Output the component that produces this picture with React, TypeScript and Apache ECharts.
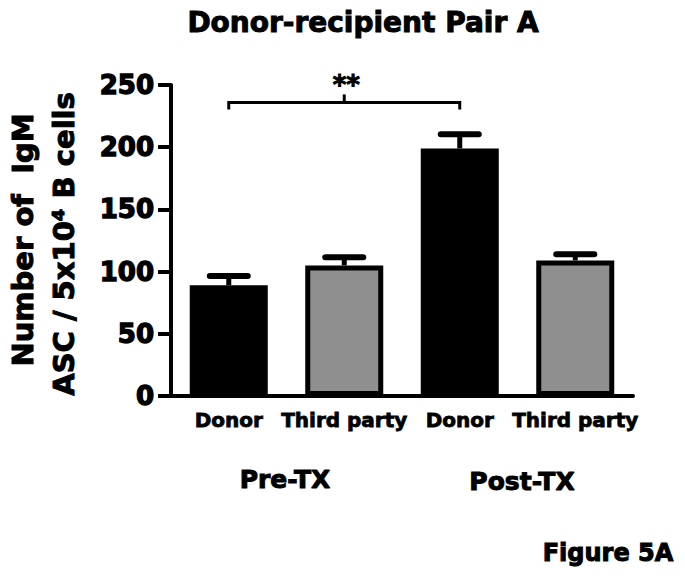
import React, { useEffect, useRef } from "react";
import * as echarts from "echarts";

const categories = ["Donor", "Third party", "Donor", "Third party"];
const means = [89, 105, 199, 109];
const sems = [7.5, 6.5, 11.5, 5];
const barColors = ["#000000", "#8f8f8f", "#000000", "#8f8f8f"];
const groupLabels = ["Pre-TX", "Post-TX"];
const yMin = 0;
const yMax = 250;
const yInterval = 50;
const significance = [[0, 2, 236]];
const sigLabel = "**";

const FONT = "DejaVu Sans";
const heavy = { textBorderColor: "#000", textBorderWidth: 1 };

export default function App() {
  const ref = useRef<HTMLDivElement>(null);
  useEffect(() => {
    if (!ref.current) return;
    const chart = echarts.init(ref.current, null, { renderer: "svg" });
    const textStyle = (text: string, fontSize: number) => ({
      text,
      fontSize,
      fontWeight: "bold",
      fontFamily: FONT,
      fill: "#000",
      stroke: "#000",
      lineWidth: 1,
      align: "center",
      verticalAlign: "middle",
    });
    const option: any = {
      animation: false,
      backgroundColor: "#ffffff",
      grid: { left: 171, right: 52, top: 85, bottom: 186, containLabel: false },
      xAxis: {
        type: "category",
        data: categories,
        axisLine: { lineStyle: { color: "#000", width: 4 } },
        axisTick: { alignWithLabel: true, length: 11, lineStyle: { color: "#000", width: 5 } },
        axisLabel: {
          interval: 0,
          margin: 14,
          color: "#000",
          fontSize: 20,
          fontWeight: "bold",
          fontFamily: FONT,
          ...heavy,
          textBorderWidth: 0.8,
        },
      },
      yAxis: {
        type: "value",
        min: yMin,
        max: yMax,
        interval: yInterval,
        splitLine: { show: false },
        axisLine: { show: true, lineStyle: { color: "#000", width: 4 } },
        axisTick: { show: true, length: 13, lineStyle: { color: "#000", width: 4 } },
        axisLabel: {
          margin: 17,
          color: "#000",
          fontSize: 26,
          fontWeight: "bold",
          fontFamily: FONT,
          ...heavy,
          textBorderWidth: 1.4,
        },
      },
      series: [
        {
          type: "bar",
          barWidth: 78,
          data: means.map((v, i) => ({
            value: v,
            itemStyle: { color: barColors[i], borderColor: "#000", borderWidth: 5 },
          })),
          z: 2,
        },
        {
          type: "custom",
          z: 3,
          encode: { x: 0, y: 1 },
          data: means.map((m, i) => [i, m, sems[i]]),
          renderItem: (params: any, api: any) => {
            const i = api.value(0);
            const m = api.value(1);
            const e = api.value(2);
            const base = api.coord([i, m]);
            const top = api.coord([i, m + e]);
            return {
              type: "group",
              children: [
                {
                  type: "line",
                  shape: { x1: base[0], y1: base[1], x2: top[0], y2: top[1] },
                  style: { stroke: "#000", lineWidth: 5 },
                },
                {
                  type: "line",
                  shape: { x1: top[0] - 19, y1: top[1], x2: top[0] + 19, y2: top[1] },
                  style: { stroke: "#000", lineWidth: 6, lineCap: "round" },
                },
              ],
            };
          },
        },
        {
          type: "custom",
          z: 3,
          encode: { x: 0, y: 2 },
          data: significance,
          renderItem: (params: any, api: any) => {
            const l = api.coord([api.value(0), api.value(2)]);
            const r = api.coord([api.value(1), api.value(2)]);
            const mid = (l[0] + r[0]) / 2;
            return {
              type: "group",
              children: [
                {
                  type: "polyline",
                  shape: { points: [[l[0], l[1] + 7], [l[0], l[1]], [r[0], r[1]], [r[0], r[1] + 7]] },
                  style: { stroke: "#000", lineWidth: 3, fill: null },
                },
                {
                  type: "line",
                  shape: { x1: mid, y1: l[1], x2: mid, y2: l[1] - 8 },
                  style: { stroke: "#000", lineWidth: 3 },
                },
                {
                  type: "text",
                  x: mid + 2,
                  y: l[1] - 17,
                  style: textStyle(sigLabel, 26),
                },
              ],
            };
          },
        },
      ],
      graphic: [
        { type: "text", x: 363, y: 22, style: textStyle("Donor-recipient Pair A", 28) },
        { type: "text", x: 23, y: 240, rotation: Math.PI / 2, style: textStyle("Number of  IgM", 29) },
        { type: "text", x: 64, y: 244, rotation: Math.PI / 2, style: textStyle("ASC / 5x10\u2074 B cells", 29) },
        { type: "text", x: 285, y: 479, style: textStyle(groupLabels[0], 25) },
        { type: "text", x: 522, y: 481, style: textStyle(groupLabels[1], 25) },
        { type: "text", x: 608, y: 553, style: textStyle("Figure 5A", 24) },
      ],
    };
    chart.setOption(option);
    return () => chart.dispose();
  }, []);
  return (
    <div
      ref={ref}
      style={{ position: "fixed", left: 0, top: 0, width: 685, height: 582, background: "#fff" }}
    />
  );
}
